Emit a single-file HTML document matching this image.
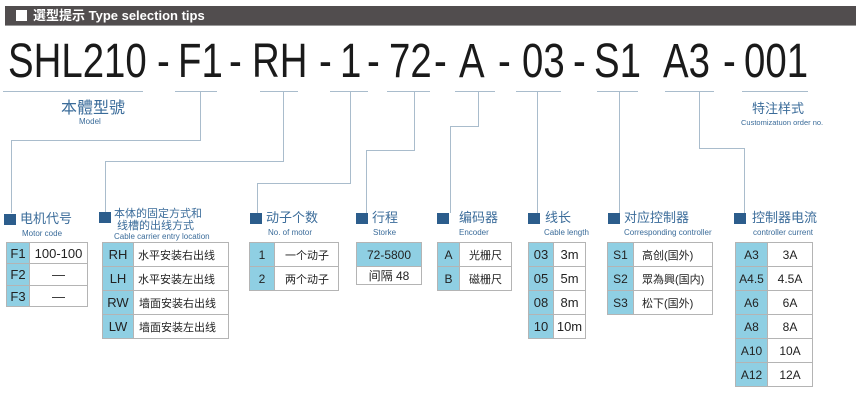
<!DOCTYPE html>
<html><head><meta charset="utf-8"><style>
body{margin:0;width:864px;height:414px;background:#fff;position:relative;overflow:hidden;font-family:"Liberation Sans","Noto Sans CJK SC",sans-serif}
.a{position:absolute;white-space:nowrap}
.bar{left:5px;top:6px;width:851px;height:19px;background:#514d4e;border-bottom:1px solid #999}
.big{font-size:48px;line-height:48px;color:#1a1a1a;transform:scaleX(0.8);transform-origin:0 0;top:38px}
.ic{width:12px;height:11px;background:#2c5d8c}
.t{color:#3b6c9a;font-size:13px;line-height:14px}
.s{color:#3b6c9a;font-size:8px;line-height:9px}
table{position:absolute;border-collapse:collapse;font-size:12px;color:#222}
td{border:1px solid #b4b4b4;padding:0;text-align:center}
td.k{background:#8fcfe3}
td.l{text-align:left}
</style></head><body>
<div class="a bar"></div>
<div class="a" style="left:16px;top:10px;width:11px;height:11px;background:#fff"></div>
<div class="a" style="left:33px;top:7px;color:#fff;font-weight:bold;font-size:13px;line-height:17px">選型提示 Type selection tips</div>

<div class="a big" style="left:8px">SHL210</div>
<div class="a big" style="left:157px">-</div>
<div class="a big" style="left:178px">F1</div>
<div class="a big" style="left:229px">-</div>
<div class="a big" style="left:252px">RH</div>
<div class="a big" style="left:319px">-</div>
<div class="a big" style="left:340px">1</div>
<div class="a big" style="left:367px">-</div>
<div class="a big" style="left:389px">72</div>
<div class="a big" style="left:434px">-</div>
<div class="a big" style="left:459px">A</div>
<div class="a big" style="left:498px">-</div>
<div class="a big" style="left:522px">03</div>
<div class="a big" style="left:573px">-</div>
<div class="a big" style="left:594px">S1</div>
<div class="a big" style="left:663px">A3</div>
<div class="a big" style="left:723px">-</div>
<div class="a big" style="left:744px">001</div>

<svg class="a" style="left:0;top:0" width="864" height="414" fill="none" stroke="#a9bccc" stroke-width="1">
<path d="M3 91.5H143M175 91.5H217M260 91.5H298M330 91.5H368M387 91.5H430M455 91.5H495M516 91.5H561M597 91.5H638M665 91.5H714M742 91.5H808"/>
<path d="M200.5 92V140.5H11.5V213"/>
<path d="M283.5 92V161.5H105.5V213"/>
<path d="M350.5 92V183.5H257.5V213"/>
<path d="M414.5 92V150.5H366.5V213"/>
<path d="M478.5 92V126.5H450.5V213"/>
<path d="M537.5 92V213"/>
<path d="M619.5 92V213"/>
<path d="M699.5 92V148.5H744.5V213"/>
</svg>

<div class="a" style="left:61px;top:94px;color:#3b6c9a;font-size:16px">本體型號</div>
<div class="a s" style="left:79px;top:117px">Model</div>
<div class="a" style="left:752px;top:98px;color:#3b6c9a;font-size:13px">特注样式</div>
<div class="a s" style="left:741px;top:118px;font-size:7.5px">Customizatuon order no.</div>

<div class="a ic" style="left:4px;top:214px"></div>
<div class="a t" style="left:20px;top:212px">电机代号</div>
<div class="a s" style="left:22px;top:229px">Motor code</div>

<div class="a ic" style="left:99px;top:212px"></div>
<div class="a t" style="left:114px;top:208px;font-size:11px;line-height:12px">本体的固定方式和<br>&nbsp;线槽的出线方式</div>
<div class="a s" style="left:114px;top:232px">Cable carrier entry location</div>

<div class="a ic" style="left:250px;top:213px"></div>
<div class="a t" style="left:266px;top:211px">动子个数</div>
<div class="a s" style="left:268px;top:228px">No. of motor</div>

<div class="a ic" style="left:356px;top:213px"></div>
<div class="a t" style="left:372px;top:211px">行程</div>
<div class="a s" style="left:373px;top:228px">Storke</div>

<div class="a ic" style="left:437px;top:213px"></div>
<div class="a t" style="left:459px;top:211px">编码器</div>
<div class="a s" style="left:459px;top:228px">Encoder</div>

<div class="a ic" style="left:528px;top:213px"></div>
<div class="a t" style="left:545px;top:211px">线长</div>
<div class="a s" style="left:544px;top:228px">Cable length</div>

<div class="a ic" style="left:608px;top:213px"></div>
<div class="a t" style="left:624px;top:211px">对应控制器</div>
<div class="a s" style="left:624px;top:228px">Corresponding controller</div>

<div class="a ic" style="left:734px;top:213px"></div>
<div class="a t" style="left:752px;top:211px">控制器电流</div>
<div class="a s" style="left:753px;top:228px">controller current</div>

<table style="left:6px;top:242px;width:82px;font-size:13px">
<tr style="height:21px"><td class="k" style="width:22px">F1</td><td>100-100</td></tr>
<tr style="height:22px"><td class="k">F2</td><td>—</td></tr>
<tr style="height:21px"><td class="k">F3</td><td>—</td></tr>
</table>

<table style="left:102px;top:242px;width:127px;font-size:11px">
<tr style="height:24px"><td class="k" style="width:30px;font-size:13px">RH</td><td class="l" style="padding-left:4px">水平安装右出线</td></tr>
<tr style="height:24px"><td class="k" style="font-size:13px">LH</td><td class="l" style="padding-left:4px">水平安装左出线</td></tr>
<tr style="height:24px"><td class="k" style="font-size:13px">RW</td><td class="l" style="padding-left:5px">墙面安装右出线</td></tr>
<tr style="height:24px"><td class="k" style="font-size:13px">LW</td><td class="l" style="padding-left:5px">墙面安装左出线</td></tr>
</table>

<table style="left:249px;top:242px;width:90px;font-size:11px">
<tr style="height:24px"><td class="k" style="width:24px;font-size:12px">1</td><td class="l" style="padding-left:10px">一个动子</td></tr>
<tr style="height:24px"><td class="k" style="font-size:12px">2</td><td class="l" style="padding-left:10px">两个动子</td></tr>
</table>

<table style="left:356px;top:242px;width:66px">
<tr style="height:24px"><td class="k">72-5800</td></tr>
<tr style="height:17px"><td>间隔 48</td></tr>
</table>

<table style="left:437px;top:242px;width:75px;font-size:11px">
<tr style="height:24px"><td class="k" style="width:21px;font-size:12px">A</td><td class="l" style="padding-left:9px">光栅尺</td></tr>
<tr style="height:24px"><td class="k" style="font-size:12px">B</td><td class="l" style="padding-left:9px">磁栅尺</td></tr>
</table>

<table style="left:528px;top:242px;width:58px;font-size:13px">
<tr style="height:24px"><td class="k" style="width:24px">03</td><td>3m</td></tr>
<tr style="height:24px"><td class="k">05</td><td>5m</td></tr>
<tr style="height:24px"><td class="k">08</td><td>8m</td></tr>
<tr style="height:24px"><td class="k">10</td><td>10m</td></tr>
</table>

<table style="left:607px;top:242px;width:106px;font-size:11px">
<tr style="height:24px"><td class="k" style="width:25px;font-size:12px">S1</td><td class="l" style="padding-left:8px">高创(国外)</td></tr>
<tr style="height:24px"><td class="k" style="font-size:12px">S2</td><td class="l" style="padding-left:8px">眾為興(国内)</td></tr>
<tr style="height:24px"><td class="k" style="font-size:12px">S3</td><td class="l" style="padding-left:8px">松下(国外)</td></tr>
</table>

<table style="left:735px;top:242px;width:78px;font-size:12px">
<tr style="height:24px"><td class="k" style="width:31px">A3</td><td>3A</td></tr>
<tr style="height:24px"><td class="k">A4.5</td><td>4.5A</td></tr>
<tr style="height:24px"><td class="k">A6</td><td>6A</td></tr>
<tr style="height:24px"><td class="k">A8</td><td>8A</td></tr>
<tr style="height:24px"><td class="k">A10</td><td>10A</td></tr>
<tr style="height:24px"><td class="k">A12</td><td>12A</td></tr>
</table>
</body></html>
